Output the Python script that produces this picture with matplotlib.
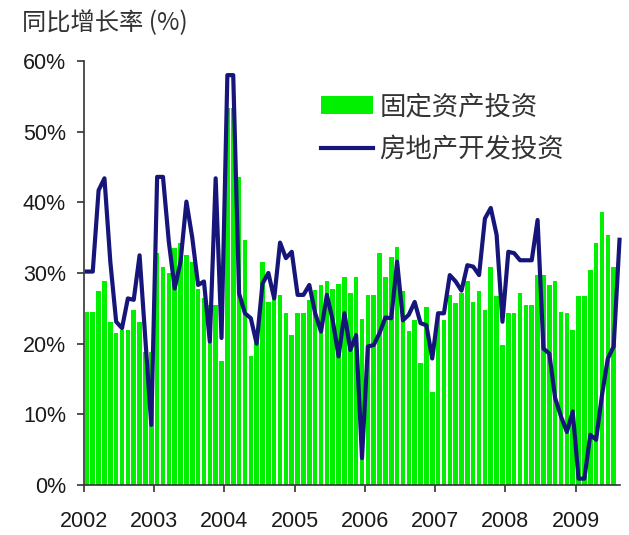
import numpy as np
import matplotlib
matplotlib.use('Agg')
import matplotlib.pyplot as plt
from matplotlib.ticker import FuncFormatter

plt.rcParams['font.family'] = ['Liberation Sans', 'Noto Sans CJK SC', 'DejaVu Sans']

# Monthly growth rates (%), Jan 2002 onwards
# fixed asset investment (bars)
fixed_asset = [
    24.5, 24.5, 27.4, 28.8, 23.1, 21.5, 21.9, 22.0, 24.8, 23.1, 18.8, 18.8,   # 2002
    32.8, 30.9, 30.0, 33.5, 34.2, 32.5, 31.6, 27.8, 26.4, 25.5, 25.5, 17.5,   # 2003
    53.3, 53.3, 43.6, 34.7, 18.3, 21.0, 31.6, 25.9, 26.4, 26.9, 24.3, 21.2,   # 2004
    24.3, 24.3, 26.2, 27.6, 28.3, 28.8, 27.8, 28.5, 29.5, 27.1, 29.5, 23.5,   # 2005
    26.9, 26.9, 32.8, 29.5, 32.3, 33.7, 27.4, 21.8, 23.3, 17.2, 25.2, 13.2,   # 2006
    24.3, 23.3, 26.9, 25.7, 27.1, 28.8, 25.9, 27.4, 24.8, 30.9, 26.7, 19.8,   # 2007
    24.3, 24.3, 27.1, 25.5, 25.5, 29.7, 29.7, 28.3, 28.8, 24.5, 24.3, 21.9,   # 2008
    26.7, 26.7, 30.4, 34.2, 38.7, 35.4, 30.9,                                 # 2009
]
# real estate development investment (line)
real_estate = [
    30.2, 30.2, 41.7, 43.4, 31.6, 23.1, 22.2, 26.4, 26.2, 32.5, 20.5, 8.5,    # 2002
    43.6, 43.6, 34.4, 27.8, 31.6, 40.1, 35.0, 28.3, 28.8, 20.3, 43.4, 20.8,   # 2003
    58.0, 58.0, 27.1, 24.3, 23.6, 20.0, 28.5, 30.0, 26.4, 34.3, 32.1, 33.0,   # 2004
    26.9, 26.9, 28.3, 24.3, 21.7, 26.9, 23.3, 18.2, 24.3, 19.1, 21.2, 3.8,    # 2005
    19.6, 19.8, 21.5, 23.7, 23.6, 31.6, 23.3, 24.1, 25.9, 22.9, 22.6, 17.9,   # 2006
    24.3, 24.3, 29.7, 28.8, 27.5, 31.1, 30.9, 29.7, 37.7, 39.2, 35.4, 23.1,   # 2007
    33.0, 32.8, 31.8, 31.8, 31.8, 37.5, 19.3, 18.6, 12.3, 9.7, 7.5, 10.4,     # 2008
    0.9, 0.9, 7.1, 6.4, 12.7, 17.9, 19.6, 34.7,                               # 2009
]
years = [2002, 2003, 2004, 2005, 2006, 2007, 2008, 2009]
series_names = ['固定资产投资', '房地产开发投资']
y_title = '同比增长率 (%)'

x_bar = 2002 + (np.arange(len(fixed_asset)) + 0.5) / 12
x_line = 2002 + (np.arange(len(real_estate)) + 0.5) / 12

fig = plt.figure(figsize=(6.29, 5.35), dpi=100)
ax = fig.add_axes([0.1335, 0.0935, 0.852, 0.7925])

bars = ax.bar(x_bar, fixed_asset, width=0.78 / 12, color='#00f000', label=series_names[0], zorder=2)
line, = ax.plot(x_line, real_estate, color='#16167a', lw=3.0, label=series_names[1],
                solid_joinstyle='round', zorder=3, clip_on=False)

ax.set_xlim(2002, 2009.63)
ax.set_ylim(0, 60)
ax.set_yticks(range(0, 61, 10))
ax.yaxis.set_major_formatter(FuncFormatter(lambda v, p: '%d%%' % v))
ax.set_xticks(years)
ax.set_xticklabels([str(y) for y in years])

for s in ['top', 'right']:
    ax.spines[s].set_visible(False)
for s in ['left', 'bottom']:
    ax.spines[s].set_color('#333333')
    ax.spines[s].set_linewidth(1.2)

ax.tick_params(axis='y', direction='out', length=5, width=1.2, color='#333333',
               labelsize=15.5, labelcolor='#1a1a1a', pad=8)
ax.tick_params(axis='x', direction='out', length=5, width=1.2, color='#333333',
               labelsize=15.5, labelcolor='#1a1a1a', pad=14)

# axis title in the top-left corner
fig.text(0.035, 0.982, y_title, fontsize=17.5, color='#333333', va='top', ha='left',
         family=['Noto Sans CJK SC', 'DejaVu Sans'])

leg = ax.legend([bars, line], series_names, loc='upper left',
                bbox_to_anchor=(0.511, 0.826), bbox_transform=fig.transFigure,
                frameon=False, prop={'family': 'Noto Sans CJK SC', 'size': 19},
                handlelength=1.95, handleheight=0.7, handletextpad=0.25, labelspacing=0.6,
                borderpad=0, borderaxespad=0)
for t in leg.get_texts():
    t.set_color('#333333')

fig.savefig('out.png', dpi=100)
